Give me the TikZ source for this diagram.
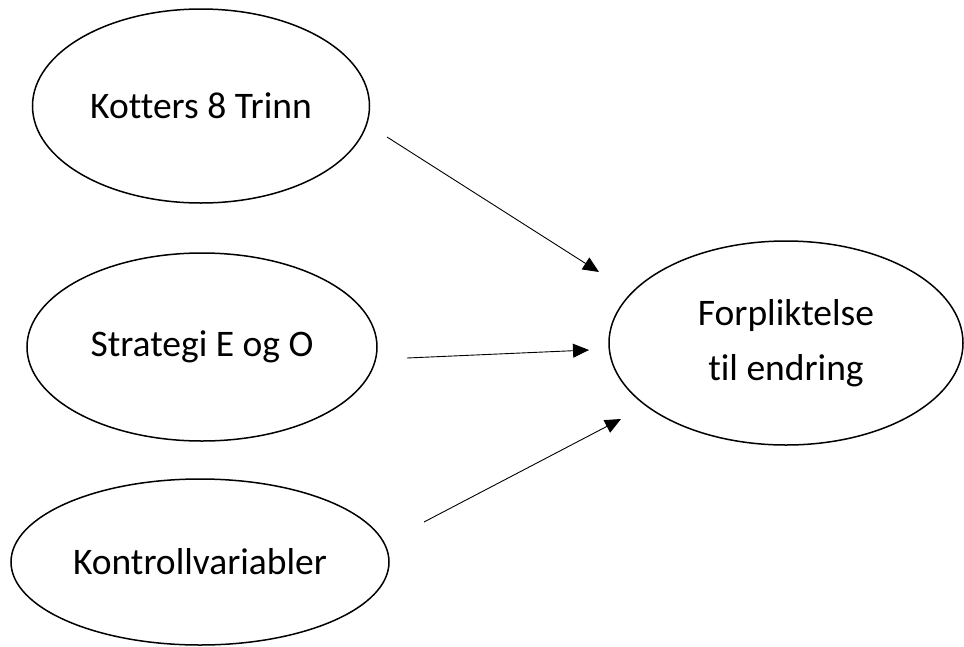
\documentclass[tikz,border=0pt]{standalone}
\usepackage{fontspec}
\setmainfont{Carlito}[Ligatures=NoCommon]
\usetikzlibrary{shapes.geometric,arrows.meta}
\begin{document}
\begin{tikzpicture}[x=1pt,y=-1pt,
  oval/.style={draw,ellipse,line width=1.5pt,inner sep=0pt,align=center,
    font=\fontsize{37.5}{55}\selectfont},
  link/.style={line width=0.9pt,-{Triangle[length=16pt,width=14pt]}}]
\useasboundingbox (0,0) rectangle (964,646);
\node[oval,minimum width=337pt,minimum height=194pt] (k) at (201,106) {Kotters 8 Trinn};
\node[oval,minimum width=350pt,minimum height=188pt] (s) at (202,347) {Strategi E og O};
\node[oval,minimum width=378pt,minimum height=166pt] (c) at (200,562) {Kontrollvariabler};
\node[oval,minimum width=354pt,minimum height=204pt] (f) at (786,343) {Forpliktelse\\til endring};
\coordinate (k1) at (387,137);
\coordinate (f1) at (599,272);
\coordinate (s1) at (407,358);
\coordinate (f2) at (589,350);
\coordinate (c1) at (424,522);
\coordinate (f3) at (621,419);
\draw[link] (k1) -- (f1);
\draw[link] (s1) -- (f2);
\draw[link] (c1) -- (f3);
\end{tikzpicture}
\end{document}
